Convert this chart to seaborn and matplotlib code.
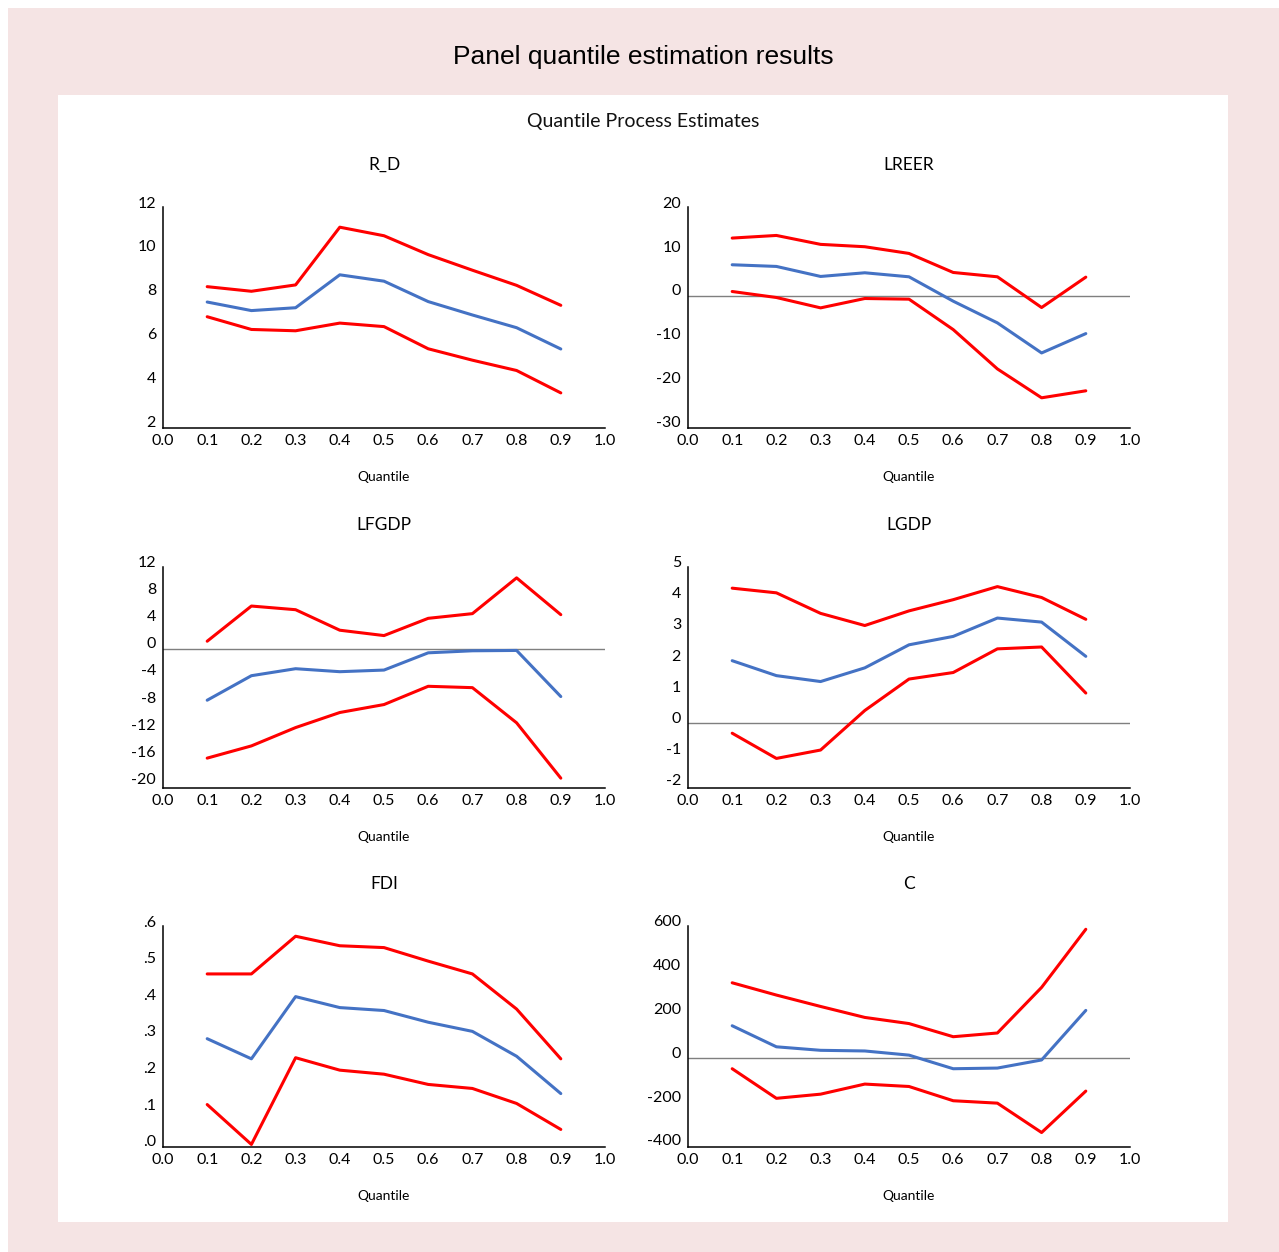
import matplotlib
matplotlib.use("Agg")
import matplotlib.pyplot as plt
import matplotlib.transforms as mtransforms
from matplotlib.patches import Rectangle
import seaborn as sns

# Quantile grid
quantiles = [0.1, 0.2, 0.3, 0.4, 0.5, 0.6, 0.7, 0.8, 0.9]

# R_D: estimate with lower / upper bands
rd_est = [7.72, 7.33, 7.46, 8.96, 8.67, 7.74, 7.13, 6.55, 5.58]
rd_lo = [7.05, 6.47, 6.41, 6.76, 6.60, 5.59, 5.07, 4.60, 3.58]
rd_hi = [8.42, 8.21, 8.50, 11.13, 10.74, 9.88, 9.17, 8.48, 7.57]

# LREER
lreer_est = [7.10, 6.72, 4.43, 5.27, 4.35, -1.22, -6.18, -13.05, -8.63]
lreer_lo = [0.99, -0.38, -2.75, -0.61, -0.76, -7.71, -16.7, -23.3, -21.7]
lreer_hi = [13.2, 13.8, 11.76, 11.22, 9.69, 5.34, 4.35, -2.67, 4.27]

# LFGDP
lfgdp_est = [-7.57, -3.96, -2.93, -3.37, -3.13, -0.59, -0.29, -0.24, -7.03]
lfgdp_lo = [-16.1, -14.3, -11.6, -9.38, -8.21, -5.52, -5.72, -10.9, -19.05]
lfgdp_hi = [1.12, 6.30, 5.76, 2.74, 1.95, 4.49, 5.18, 10.45, 5.03]

# LGDP
lgdp_est = [2.01, 1.53, 1.34, 1.78, 2.52, 2.79, 3.38, 3.25, 2.15]
lgdp_lo = [-0.32, -1.13, -0.86, 0.41, 1.42, 1.63, 2.39, 2.45, 0.97]
lgdp_hi = [4.34, 4.19, 3.53, 3.14, 3.61, 3.97, 4.39, 4.04, 3.34]

# FDI
fdi_est = [0.295, 0.240, 0.410, 0.380, 0.372, 0.340, 0.315, 0.247, 0.145]
fdi_lo = [0.115, 0.006, 0.243, 0.209, 0.198, 0.170, 0.159, 0.118, 0.047]
fdi_hi = [0.472, 0.472, 0.575, 0.549, 0.544, 0.507, 0.472, 0.376, 0.240]

# C (constant)
c_est = [148, 52, 36, 33, 14, -48, -45, -8, 218]
c_lo = [-48, -183, -164, -118, -129, -194, -205, -339, -150]
c_hi = [344, 288, 236, 186, 158, 98, 115, 323, 588]

x_ticks = [0.0, 0.1, 0.2, 0.3, 0.4, 0.5, 0.6, 0.7, 0.8, 0.9, 1.0]
x_tick_labels = ["0.0", "0.1", "0.2", "0.3", "0.4", "0.5", "0.6", "0.7", "0.8", "0.9", "1.0"]

rd_ticks = [2, 4, 6, 8, 10, 12]
lreer_ticks = [-30, -20, -10, 0, 10, 20]
lfgdp_ticks = [-20, -16, -12, -8, -4, 0, 4, 8, 12]
lgdp_ticks = [-2, -1, 0, 1, 2, 3, 4, 5]
fdi_ticks = [0.0, 0.1, 0.2, 0.3, 0.4, 0.5, 0.6]
fdi_tick_labels = [".0", ".1", ".2", ".3", ".4", ".5", ".6"]
c_ticks = [-400, -200, 0, 200, 400, 600]

panels = [
    dict(name="R_D", est=rd_est, lo=rd_lo, hi=rd_hi, ylim=(1.98, 12.05),
         ticks=rd_ticks, labels=[str(t) for t in rd_ticks], zero=False),
    dict(name="LREER", est=lreer_est, lo=lreer_lo, hi=lreer_hi, ylim=(-30.2, 20.3),
         ticks=lreer_ticks, labels=[str(t) for t in lreer_ticks], zero=True),
    dict(name="LFGDP", est=lfgdp_est, lo=lfgdp_lo, hi=lfgdp_hi, ylim=(-20.5, 12.05),
         ticks=lfgdp_ticks, labels=[str(t) for t in lfgdp_ticks], zero=True),
    dict(name="LGDP", est=lgdp_est, lo=lgdp_lo, hi=lgdp_hi, ylim=(-2.08, 5.02),
         ticks=lgdp_ticks, labels=[str(t) for t in lgdp_ticks], zero=True),
    dict(name="FDI", est=fdi_est, lo=fdi_lo, hi=fdi_hi, ylim=(-0.001, 0.603),
         ticks=fdi_ticks, labels=fdi_tick_labels, zero=False),
    dict(name="C", est=c_est, lo=c_lo, hi=c_hi, ylim=(-405, 603),
         ticks=c_ticks, labels=[str(t) for t in c_ticks], zero=True),
]

sns.set_theme(style="white")
plt.rcParams["font.family"] = ["Lato", "DejaVu Sans"]

W, H = 1279, 1252
fig = plt.figure(figsize=(W / 100, H / 100), dpi=100)
fig.patch.set_facecolor("white")

# pink backdrop and white inner panel
fig.add_artist(Rectangle((8 / W, 0), 1 - 8 / W, 1 - 8 / H, transform=fig.transFigure,
                         facecolor="#F5E4E4", edgecolor="none", zorder=0))
fig.add_artist(Rectangle((58 / W, 1 - 1222 / H), (1228 - 58) / W, (1222 - 95) / H,
                         transform=fig.transFigure, facecolor="white", edgecolor="none", zorder=0))

fig.text(643 / W, 1 - 57 / H, "Panel quantile estimation results",
         ha="center", va="center", fontsize=19,
         family=["Liberation Sans", "DejaVu Sans"], color="black")
fig.text(643 / W, 1 - 121 / H, "Quantile Process Estimates",
         ha="center", va="center", fontsize=14, color="#111111")

col_left = [163, 688]
row_top = [207, 567, 926]
ax_w, ax_h = 442, 221

label_shift = mtransforms.ScaledTranslation(0, 6 / 100, fig.dpi_scale_trans)

for i, p in enumerate(panels):
    r, c = divmod(i, 2)
    left = col_left[c]
    top = row_top[r]
    ax = fig.add_axes([left / W, 1 - (top + ax_h) / H, ax_w / W, ax_h / H])
    ax.set_facecolor("none")

    if p["zero"]:
        ax.axhline(0, color="#7f7f7f", linewidth=1.0, zorder=1)

    sns.lineplot(x=quantiles, y=p["hi"], ax=ax, color="#FF0000", linewidth=2.2, zorder=3)
    sns.lineplot(x=quantiles, y=p["lo"], ax=ax, color="#FF0000", linewidth=2.2, zorder=3)
    sns.lineplot(x=quantiles, y=p["est"], ax=ax, color="#4472C4", linewidth=2.2, zorder=3)

    ax.set_xlim(0, 1)
    ax.set_ylim(*p["ylim"])
    ax.set_xticks(x_ticks, x_tick_labels)
    ax.set_yticks(p["ticks"], p["labels"])
    ax.tick_params(axis="both", length=0, labelsize=11.5, colors="black")
    ax.tick_params(axis="x", pad=4)
    ax.tick_params(axis="y", pad=5)
    for tk in ax.yaxis.get_major_ticks():
        tk.label1.set_transform(tk.label1.get_transform() + label_shift)

    for side in ("top", "right"):
        ax.spines[side].set_visible(False)
    for side in ("left", "bottom"):
        ax.spines[side].set_color("black")
        ax.spines[side].set_linewidth(1.1)
    ax.set_xlabel("")
    ax.set_ylabel("")
    ax.grid(False)

    cx = left + ax_w / 2
    fig.text(cx / W, 1 - (top - 42) / H, p["name"], ha="center", va="center",
             fontsize=12.5, color="black")
    fig.text(cx / W, 1 - (top + ax_h + 49) / H, "Quantile", ha="center", va="center",
             fontsize=10, color="black")

fig.savefig("out.png", dpi=100, facecolor=fig.get_facecolor())
